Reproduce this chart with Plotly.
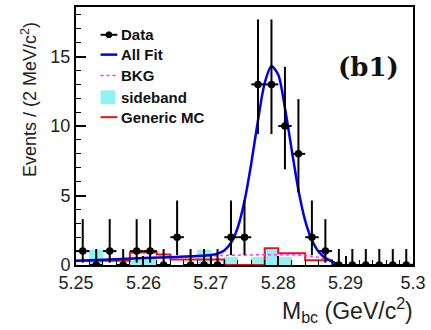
import plotly.graph_objects as go

# ---------------- data ----------------
bin_centers = [5.251, 5.253, 5.255, 5.257, 5.259, 5.261, 5.263, 5.265, 5.267, 5.269,
               5.271, 5.273, 5.275, 5.277, 5.279, 5.281, 5.283, 5.285, 5.287, 5.289,
               5.291, 5.293, 5.295, 5.297, 5.299]
data_counts = [1, 0, 1, 0, 1, 1, 0, 2, 0, 0,
               0, 2, 2, 13, 13, 10, 8, 2, 1, 0,
               0, 0, 0, 0, 0]
err_up = [2.30, 1.15, 2.30, 1.15, 2.30, 2.30, 1.15, 2.64, 1.15, 1.15,
          1.15, 2.64, 2.64, 4.67, 4.67, 4.26, 3.94, 2.64, 2.30, 1.15,
          1.15, 1.15, 1.15, 1.15, 1.15]
err_down = [0.83, 0.0, 0.83, 0.0, 0.83, 0.83, 0.0, 1.29, 0.0, 0.0,
            0.0, 1.29, 1.29, 3.58, 3.58, 3.11, 2.79, 1.29, 0.83, 0.0,
            0.0, 0.0, 0.0, 0.0, 0.0]
half_bin = 0.001

# sideband (cyan) histogram per 2 MeV bin
sideband_vals = [0, 1.1, 0, 0, 0.5, 0.5, 0, 0, 0, 1.1,
                 0, 0.6, 0, 0.6, 1.1, 0.6, 0, 0, 0, 0,
                 0, 0, 0, 0, 0]

# Generic MC (red) step histogram, bin edges and heights
mc_edges = [5.250, 5.252, 5.254, 5.256, 5.258, 5.260, 5.262, 5.264, 5.266, 5.268,
            5.270, 5.272, 5.274, 5.276, 5.278, 5.280, 5.282, 5.284, 5.286, 5.288,
            5.290, 5.300]
mc_vals = [0.3, 0.3, 0.3, 0.3, 0.9, 0.9, 0.75, 0.4, 0.4, 0.4,
           0.4, 0.0, 0.0, 0.0, 1.2, 0.85, 0.85, 0.35, 0.35, 0.0,
           0.0, 0.0]

# background (magenta dotted) curve
bkg_x = [5.250, 5.255, 5.260, 5.265, 5.270, 5.275, 5.280, 5.283, 5.285, 5.2865, 5.288, 5.289, 5.300]
bkg_y = [0.30, 0.40, 0.50, 0.58, 0.66, 0.72, 0.74, 0.72, 0.62, 0.48, 0.25, 0.0, 0.0]

# total fit (blue) curve
fit_x = [5.250, 5.255, 5.260, 5.265, 5.268, 5.270, 5.271, 5.272, 5.273, 5.274,
         5.275, 5.276, 5.277, 5.278, 5.279, 5.280, 5.281, 5.282, 5.283, 5.284,
         5.285, 5.286, 5.287, 5.288, 5.289, 5.300]
fit_y = [0.30, 0.40, 0.50, 0.58, 0.64, 0.72, 0.82, 1.05, 1.6, 2.7,
         4.6, 7.3, 10.4, 13.1, 14.3, 13.7, 11.3, 8.3, 5.4, 3.2,
         1.8, 0.95, 0.5, 0.25, 0.02, 0.0]

x_ticks = [5.25, 5.26, 5.27, 5.28, 5.29, 5.30]
x_tick_text = ["5.25", "5.26", "5.27", "5.28", "5.29", "5.3"]
y_ticks = [0, 5, 10, 15]

# ---------------- figure ----------------
fig = go.Figure()

fig.add_trace(go.Bar(x=bin_centers, y=sideband_vals, width=0.002,
                     marker=dict(color="#8ff3f3", line=dict(width=0)),
                     showlegend=False))

fig.add_trace(go.Scatter(x=mc_edges, y=mc_vals, mode="lines",
                         line=dict(color="#ee1111", width=2, shape="hv"),
                         showlegend=False))

fig.add_trace(go.Scatter(x=bkg_x, y=bkg_y, mode="lines",
                         line=dict(color="#ff33ff", width=1.5, dash="dot", shape="spline"),
                         showlegend=False))

fig.add_trace(go.Scatter(x=fit_x, y=fit_y, mode="lines",
                         line=dict(color="#0000ee", width=2.5, shape="spline", smoothing=0.8),
                         showlegend=False))

fig.add_trace(go.Scatter(x=bin_centers, y=data_counts, mode="markers",
                         marker=dict(color="black", size=7.5),
                         error_y=dict(type="data", symmetric=False, array=err_up,
                                      arrayminus=err_down, color="black", thickness=2, width=0),
                         error_x=dict(type="constant", value=half_bin, color="black",
                                      thickness=2, width=0),
                         showlegend=False, cliponaxis=True))

# ---------------- manual legend (paper coords) ----------------
L, R, T, B = 76, 419, 5, 265
def px(x):
    return (x - L) / (R - L)
def py(y):
    return (B - y) / (B - T)

shapes = []
annots = []
legend_rows = [("Data", 33), ("All Fit", 53), ("BKG", 74), ("sideband", 96), ("Generic MC", 116)]
x0s, x1s = 101, 118
# Data
shapes.append(dict(type="line", xref="paper", yref="paper", x0=px(x0s), x1=px(x1s),
                   y0=py(33), y1=py(33), line=dict(color="black", width=2)))
shapes.append(dict(type="circle", xref="paper", yref="paper", x0=px(106.5), x1=px(112.5),
                   y0=py(30), y1=py(36), fillcolor="black", line=dict(color="black", width=1)))
# All Fit
shapes.append(dict(type="line", xref="paper", yref="paper", x0=px(x0s), x1=px(x1s),
                   y0=py(53), y1=py(53), line=dict(color="#0000ee", width=2.5)))
# BKG
shapes.append(dict(type="line", xref="paper", yref="paper", x0=px(x0s), x1=px(x1s),
                   y0=py(74), y1=py(74), line=dict(color="#ff33ff", width=1.5, dash="dot")))
# sideband
shapes.append(dict(type="rect", xref="paper", yref="paper", x0=px(101), x1=px(116),
                   y0=py(103), y1=py(89), fillcolor="#8ff3f3", line=dict(width=0)))
# Generic MC
shapes.append(dict(type="line", xref="paper", yref="paper", x0=px(x0s), x1=px(x1s),
                   y0=py(116), y1=py(116), line=dict(color="#ee1111", width=2)))

for label, yy in legend_rows:
    annots.append(dict(text="<b>%s</b>" % label, xref="paper", yref="paper",
                       x=px(120), y=py(yy), xanchor="left", yanchor="middle",
                       showarrow=False, font=dict(family="Liberation Sans, Arial", size=15, color="#111")))

annots.append(dict(text="<b>(b1)</b>", xref="paper", yref="paper", x=px(374), y=py(65),
                   xanchor="center", yanchor="middle", showarrow=False,
                   font=dict(family="DejaVu Serif, Liberation Serif", size=26, color="#111")))

annots.append(dict(text="Events / (2 MeV/c<sup>2</sup>)", xref="paper", yref="paper",
                   x=px(28), y=py(98), xanchor="center", yanchor="middle", textangle=-90,
                   showarrow=False, font=dict(family="Liberation Sans, Arial", size=18, color="#222")))

annots.append(dict(text="M<sub>bc</sub> (GeV/c<sup>2</sup>)", xref="paper", yref="paper",
                   x=px(421), y=py(310), xanchor="right", yanchor="middle",
                   showarrow=False, font=dict(family="Liberation Sans, Arial", size=23, color="#222")))

fig.update_layout(
    width=431, height=330,
    margin=dict(l=L, r=431 - R, t=T, b=330 - B),
    plot_bgcolor="white", paper_bgcolor="white",
    shapes=shapes, annotations=annots, showlegend=False,
    bargap=0,
    xaxis=dict(range=[5.25, 5.30], tickmode="array", tickvals=x_ticks, ticktext=x_tick_text,
               ticks="inside", ticklen=9, tickwidth=1.5, tickcolor="black",
               ticklabeloverflow="allow",
               minor=dict(ticks="inside", ticklen=5, dtick=0.002, tickcolor="black", tickwidth=1),
               showgrid=False, zeroline=False, showline=True, linecolor="black", linewidth=2,
               mirror=True,
               tickfont=dict(family="Liberation Sans, Arial", size=18, color="#222")),
    yaxis=dict(range=[0, 18.57], tickmode="array", tickvals=y_ticks,
               ticks="inside", ticklen=10, tickwidth=1.5, tickcolor="black",
               minor=dict(ticks="inside", ticklen=5, dtick=1, tickcolor="black", tickwidth=1),
               showgrid=False, zeroline=False, showline=True, linecolor="black", linewidth=2,
               mirror=True,
               tickfont=dict(family="Liberation Sans, Arial", size=18, color="#222")),
)

fig.write_html("out.html", config={"displayModeBar": False},
               post_script="document.body.style.margin='0px';document.body.style.padding='0px';")
